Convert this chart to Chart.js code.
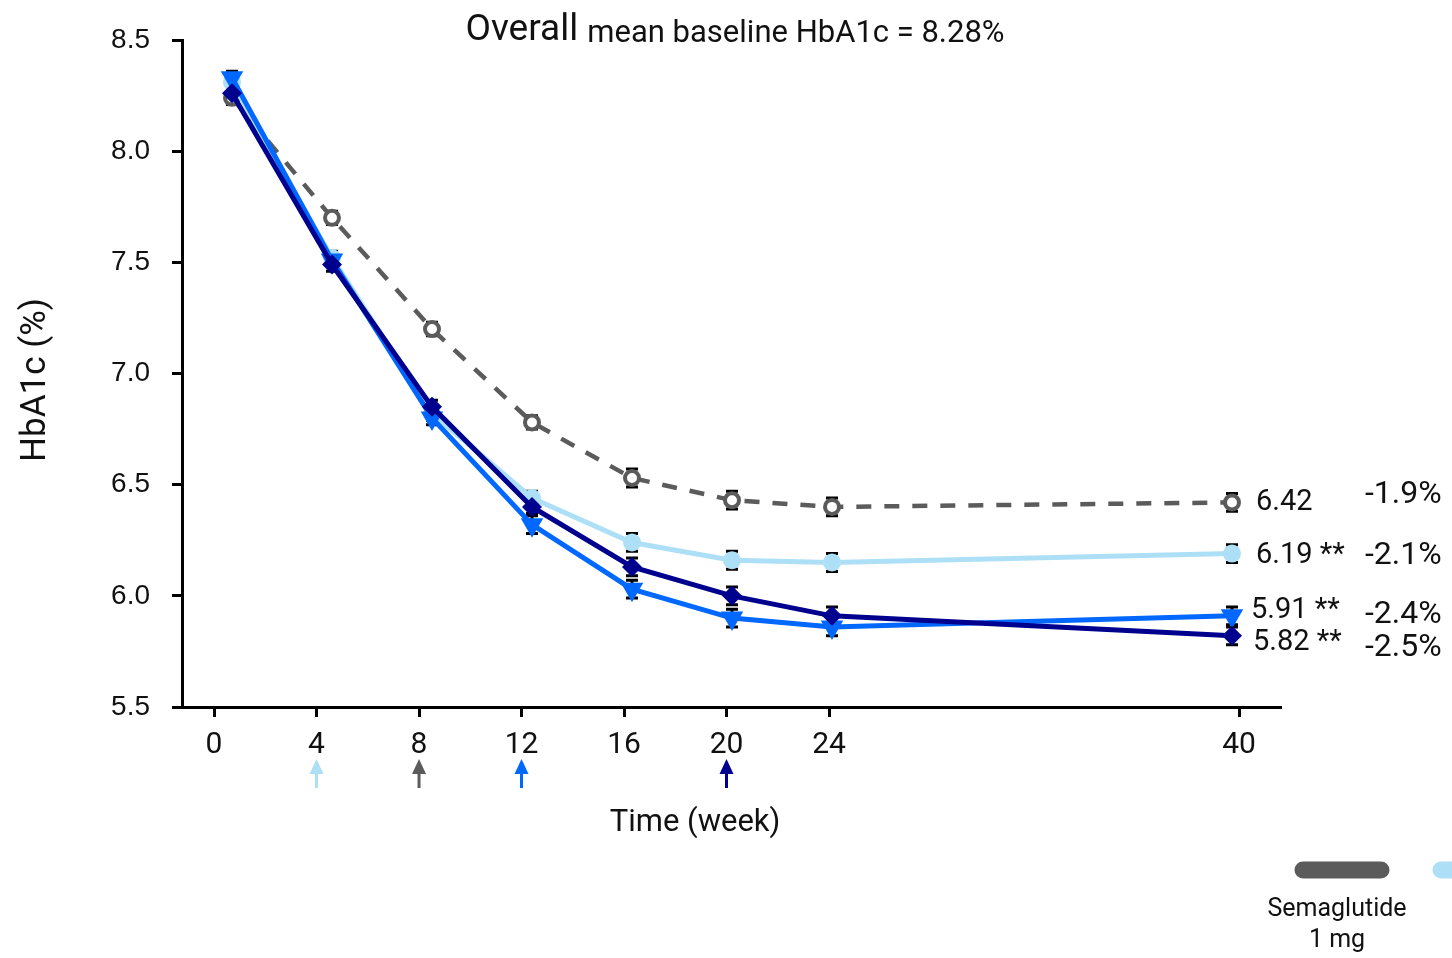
<!DOCTYPE html>
<html>
<head>
<meta charset="utf-8">
<script src="https://cdn.jsdelivr.net/npm/chart.js@4.4.1/dist/chart.umd.min.js"></script>
<style>
  html, body { margin: 0; padding: 0; background: #fff; }
  #wrap { width: 1452px; height: 958px; }
</style>
</head>
<body>
<div id="wrap"><canvas id="chart" width="1452" height="958"></canvas></div>
<script>
// weeks and tick marks
const weeks = [0, 4, 8, 12, 16, 20, 24, 40];
const xTicks = [0, 4, 8, 12, 16, 20, 24, 40];

// mean HbA1c (%) per group
const sema1mg = [8.24, 7.70, 7.20, 6.78, 6.53, 6.43, 6.40, 6.42];
const groupB  = [8.31, 7.52, 6.82, 6.44, 6.24, 6.16, 6.15, 6.19];
const groupC  = [8.33, 7.51, 6.80, 6.32, 6.03, 5.90, 5.86, 5.91];
const groupD  = [8.26, 7.49, 6.85, 6.40, 6.13, 6.00, 5.91, 5.82];

// standard errors
const seA = [0.03, 0.03, 0.03, 0.03, 0.04, 0.04, 0.04, 0.04];
const seB = [0.03, 0.03, 0.03, 0.03, 0.04, 0.04, 0.04, 0.04];
const seC = [0.03, 0.03, 0.03, 0.04, 0.04, 0.04, 0.04, 0.04];
const seD = [0.03, 0.03, 0.03, 0.03, 0.04, 0.04, 0.04, 0.04];

// end labels
const endValues = ['6.42', '6.19 **', '5.91 **', '5.82 **'];
const endChanges = ['-1.9%', '-2.1%', '-2.4%', '-2.5%'];

// arrows under x axis (week of each group)
const arrowWeeks = [4, 8, 12, 20];

const legendNames = ['Semaglutide\n1 mg', ''];

const GREY = '#5b5b5b', LIGHT = '#ade0f7', BLUE = '#0068ff', NAVY = '#00008f';
const arrowColors = [LIGHT, GREY, BLUE, NAVY];
const FONT = 'Roboto, "DejaVu Sans", sans-serif';

const pts = (ys) => weeks.map((w, i) => ({x: w, y: ys[i]}));

const errorBars = {
  id: 'errorBars',
  beforeDatasetsDraw(chart) {
    const ctx = chart.ctx, ys = chart.scales.y;
    const ses = [seA, seB, seC, seD];
    ctx.save();
    ctx.strokeStyle = '#000';
    ctx.lineWidth = 3;
    chart.data.datasets.forEach((ds, di) => {
      const meta = chart.getDatasetMeta(di);
      meta.data.forEach((p, i) => {
        const v = ds.data[i].y;
        const t = ys.getPixelForValue(v + ses[di][i]);
        const b = ys.getPixelForValue(v - ses[di][i]);
        ctx.beginPath();
        ctx.moveTo(p.x, t); ctx.lineTo(p.x, b);
        ctx.moveTo(p.x - 6, t); ctx.lineTo(p.x + 6, t);
        ctx.moveTo(p.x - 6, b); ctx.lineTo(p.x + 6, b);
        ctx.stroke();
      });
    });
    ctx.restore();
  }
};

const extras = {
  id: 'extras',
  afterDraw(chart) {
    const ctx = chart.ctx, xs = chart.scales.x;
    ctx.save();
    ctx.fillStyle = '#111';
    ctx.textBaseline = 'middle';

    // title
    const big = '37px ' + FONT, small = '31px ' + FONT;
    ctx.font = big; const w1 = ctx.measureText('Overall ').width;
    ctx.font = small; const w2 = ctx.measureText('mean baseline HbA1c = 8.28%').width;
    let tx = 735 - (w1 + w2) / 2;
    ctx.textAlign = 'left';
    ctx.font = big; ctx.fillText('Overall ', tx, 31);
    ctx.font = small; ctx.fillText('mean baseline HbA1c = 8.28%', tx + w1, 34);

    // axis titles
    ctx.font = '31px ' + FONT;
    ctx.textAlign = 'center';
    ctx.fillText('Time (week)', 695, 823);
    ctx.save();
    ctx.translate(36, 380);
    ctx.rotate(-Math.PI / 2);
    ctx.font = '35px ' + FONT;
    ctx.fillText('HbA1c (%)', 0, 0);
    ctx.restore();

    // end labels
    const dyVal = [0, 2, -5, 7], dyPct = [-7, 2, -1, 12];
    ctx.textAlign = 'left';
    chart.data.datasets.forEach((ds, di) => {
      const meta = chart.getDatasetMeta(di);
      const last = meta.data[meta.data.length - 1];
      ctx.font = '29px ' + FONT;
      ctx.fillText(endValues[di], last.x + 24 - (di === 2 ? 5 : 0) - (di === 3 ? 3 : 0), last.y + dyVal[di]);
      ctx.font = '32px ' + FONT;
      ctx.fillText(endChanges[di], 1365, last.y + dyPct[di]);
    });

    // arrows
    arrowWeeks.forEach((w, i) => {
      const x = xs.getPixelForValue(w);
      ctx.strokeStyle = arrowColors[i];
      ctx.fillStyle = arrowColors[i];
      ctx.lineWidth = 3;
      ctx.beginPath(); ctx.moveTo(x, 772); ctx.lineTo(x, 788); ctx.stroke();
      ctx.beginPath(); ctx.moveTo(x, 759); ctx.lineTo(x - 7, 774); ctx.lineTo(x + 7, 774); ctx.closePath(); ctx.fill();
    });

    // legend (cut off at right edge)
    const legColors = [GREY, LIGHT];
    ctx.lineCap = 'round';
    ctx.lineWidth = 17;
    legColors.forEach((c, i) => {
      const cx = 1342 + i * 138;
      ctx.strokeStyle = c;
      ctx.beginPath(); ctx.moveTo(cx - 39, 870); ctx.lineTo(cx + 39, 870); ctx.stroke();
      ctx.fillStyle = '#111';
      ctx.font = '25px ' + FONT;
      ctx.textAlign = 'center';
      legendNames[i].split('\n').forEach((ln, k) => ctx.fillText(ln, cx - 5, 910 + k * 31));
    });
    ctx.restore();
  }
};

new Chart(document.getElementById('chart'), {
  type: 'line',
  data: {
    datasets: [
      { label: 'Semaglutide 1 mg', data: pts(sema1mg), borderColor: GREY, borderWidth: 4.5, borderDash: [15, 13],
        pointStyle: 'circle', pointRadius: 7, pointBorderWidth: 4, pointBackgroundColor: '#fff', pointBorderColor: GREY, order: 4 },
      { label: 'Group B', data: pts(groupB), borderColor: LIGHT, borderWidth: 5,
        pointStyle: 'circle', pointRadius: 9, pointBorderWidth: 0, pointBackgroundColor: LIGHT, order: 3 },
      { label: 'Group C', data: pts(groupC), borderColor: BLUE, borderWidth: 5,
        pointStyle: 'triangle', pointRotation: 180, pointRadius: 13, pointBorderWidth: 0, pointBackgroundColor: BLUE, order: 2 },
      { label: 'Group D', data: pts(groupD), borderColor: NAVY, borderWidth: 5,
        pointStyle: 'rectRot', pointRadius: 10, pointBorderWidth: 0, pointBackgroundColor: NAVY, order: 1 }
    ].map(d => Object.assign({ xAxisID: 'xd', yAxisID: 'y', tension: 0, fill: false }, d))
  },
  options: {
    responsive: false,
    animation: false,
    events: [],
    layout: { padding: { left: 0, top: 40, right: 172, bottom: 0 } },
    plugins: { legend: { display: false }, tooltip: { enabled: false } },
    scales: {
      x: {
        type: 'linear', position: 'bottom', min: -1.25, max: 41.6,
        afterBuildTicks: s => { s.ticks = xTicks.map(v => ({ value: v })); },
        afterFit: s => { s.height = 251; },
        grid: { drawOnChartArea: false, drawTicks: true, tickLength: 10, lineWidth: 3, color: '#000' },
        border: { display: true, color: '#000', width: 3 },
        ticks: { color: '#111', padding: 10, font: { family: FONT, size: 30 }, maxRotation: 0, autoSkip: false }
      },
      xd: { type: 'linear', display: false, min: -2, max: 41.92 },
      y: {
        min: 5.5, max: 8.5,
        afterFit: s => { s.width = 182; },
        grid: { drawOnChartArea: false, drawTicks: true, tickLength: 10, lineWidth: 3, color: '#000' },
        border: { display: true, color: '#000', width: 3 },
        ticks: { stepSize: 0.5, color: '#111', padding: 22, font: { family: '"Liberation Sans", Arial, sans-serif', size: 28 },
                 callback: v => v.toFixed(1) }
      }
    }
  },
  plugins: [errorBars, extras]
});
</script>
</body>
</html>
